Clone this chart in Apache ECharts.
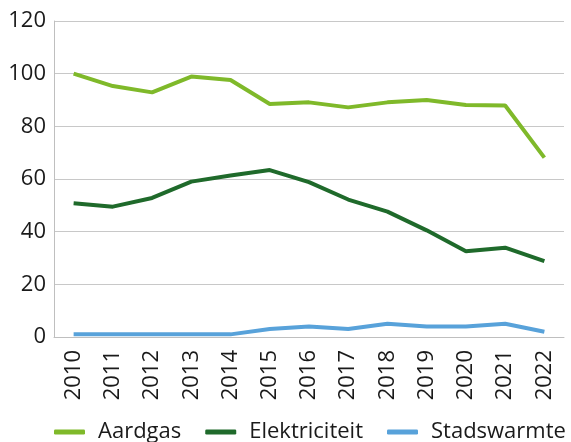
<!DOCTYPE html>
<html>
<head>
<meta charset="utf-8">
<script src="https://cdn.jsdelivr.net/npm/echarts@6/dist/echarts.min.js"></script>
<style>
  html, body { margin: 0; padding: 0; background: #fff; }
  #chart { width: 571px; height: 442px; }
</style>
</head>
<body>
<div id="chart"></div>
<script>
// jaren op de x-as
var years = ["2010", "2011", "2012", "2013", "2014", "2015", "2016", "2017", "2018", "2019", "2020", "2021", "2022"];
var aardgas = [100, 95.3, 92.9, 98.9, 97.6, 88.5, 89.1, 87.2, 89.1, 90, 88.1, 87.9, 68.1];
var elektriciteit = [50.8, 49.5, 52.8, 59, 61.3, 63.4, 58.8, 52.2, 47.6, 40.5, 32.6, 33.9, 28.8];
var stadswarmte = [1, 1, 1, 1, 1, 3, 4, 3, 5, 4, 4, 5, 2];

var chart = echarts.init(document.getElementById("chart"), null, { renderer: "canvas" });

var font = "'Open Sans', 'Noto Sans', sans-serif";

function line(name, data, color) {
  return {
    name: name,
    type: "line",
    data: data,
    symbol: "none",
    smooth: false,
    lineStyle: { color: color, width: 4 },
    itemStyle: { color: color },
  };
}

var option = {
  animation: false,
  textStyle: { fontFamily: font, color: "#1a1a1a" },
  grid: { left: 54, right: 7, top: 21, bottom: 105 },
  xAxis: {
    type: "category",
    data: years,
    boundaryGap: true,
    axisLine: { show: true, lineStyle: { color: "#bfbfbf", width: 1 } },
    axisTick: { show: false },
    axisLabel: { rotate: 90, fontSize: 22, color: "#1a1a1a", fontFamily: font, margin: 13 },
  },
  yAxis: {
    type: "value",
    min: 0,
    max: 120,
    interval: 20,
    axisLine: { show: true, lineStyle: { color: "#bfbfbf", width: 1 } },
    axisTick: { show: false },
    axisLabel: { fontSize: 22, color: "#1a1a1a", fontFamily: font, margin: 8 },
    splitLine: { lineStyle: { color: "#c8c8c8", width: 1 } },
  },
  legend: {
    top: 421,
    left: 54,
    width: 560,
    padding: 0,
    icon: "roundRect",
    itemWidth: 31,
    itemHeight: 5,
    itemGap: 24,
    textStyle: { fontSize: 22, color: "#1a1a1a", fontFamily: font, padding: [0, 0, 0, 8] },
    data: ["Aardgas", "Elektriciteit", "Stadswarmte"],
  },
  series: [
    line("Aardgas", aardgas, "#7fb92a"),
    line("Elektriciteit", elektriciteit, "#1f6a2b"),
    line("Stadswarmte", stadswarmte, "#58a2da"),
  ],
};

chart.setOption(option);
</script>
</body>
</html>
